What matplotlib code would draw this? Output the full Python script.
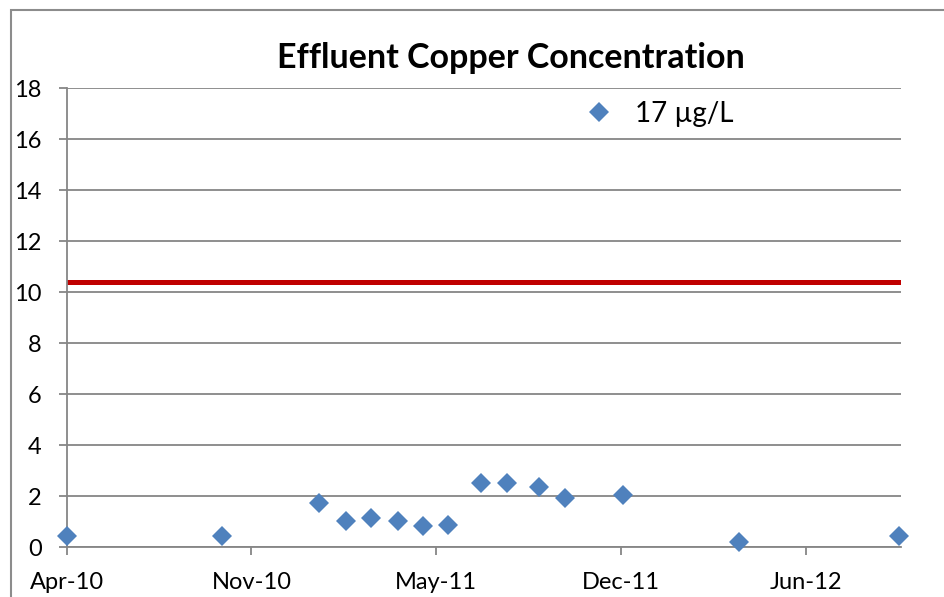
import matplotlib
matplotlib.use("Agg")
import matplotlib.pyplot as plt
import matplotlib.dates as mdates
from matplotlib.patches import Rectangle
import numpy as np
import datetime as dt

plt.rcParams['font.family'] = ['Lato', 'DejaVu Sans']

# sample dates and effluent copper results (ug/L)
sample_dates = ['2010-04-20', '2010-10-03', '2011-01-15', '2011-02-13', '2011-03-12',
                '2011-04-10', '2011-05-07', '2011-06-03', '2011-07-08', '2011-08-05',
                '2011-09-08', '2011-10-06', '2011-12-07', '2012-04-09', '2012-09-28']
copper = [0.42, 0.42, 1.71, 1.02, 1.14, 1.02, 0.82, 0.85, 2.52, 2.52, 2.34, 1.93, 2.04, 0.21, 0.42]
limit_value = 10.4
series_label = '17 \u00b5g/L'
title = 'Effluent Copper Concentration'

# excel style date axis: start date and major unit in days
axis_start = dt.datetime(2010, 4, 20)
major_unit = 198
axis_span = 894

dates = [dt.datetime.strptime(d, '%Y-%m-%d') for d in sample_dates]
tick_dates = [axis_start + dt.timedelta(days=major_unit * k) for k in range(5)]

W, H = 944, 597
fig = plt.figure(figsize=(W / 100, H / 100), dpi=100)
ax = fig.add_axes([66.7 / W, 50 / H, (901 - 66.7) / W, (547 - 88.3) / H])

grid_col = '#868686'
ax.set_axisbelow(True)
ax.yaxis.grid(True, color=grid_col, linewidth=1.3)
ax.axhline(limit_value, color='#C00000', linewidth=3.6, zorder=2)
ax.plot(dates, copper, linestyle='none', marker='D', markersize=10,
        color='#4F81BD', markeredgewidth=0, label=series_label, zorder=3, clip_on=False)

ax.set_ylim(0, 18)
ax.set_yticks(np.arange(0, 19, 2))
ax.set_xlim(axis_start, axis_start + dt.timedelta(days=axis_span))
ax.set_xticks(tick_dates)
ax.xaxis.set_major_formatter(mdates.DateFormatter('%b-%y'))

for side in ['top', 'right']:
    ax.spines[side].set_visible(False)
for side in ['left', 'bottom']:
    ax.spines[side].set_color(grid_col)
    ax.spines[side].set_linewidth(1.3)
ax.tick_params(axis='y', length=6, width=1.3, color=grid_col, pad=12, labelsize=17)
ax.tick_params(axis='x', length=6, width=1.3, color=grid_col, pad=12, labelsize=17)

fig.text(511 / W, 1 - 58 / H, title, ha='center', va='center', fontsize=24.5, fontweight='bold')

ax.legend(loc='center left', bbox_to_anchor=(588 / W, 1 - 114 / H), bbox_transform=fig.transFigure,
          frameon=False, fontsize=20, handlelength=0.8, handletextpad=0.9, borderpad=0, borderaxespad=0)

# chart area border
fig.patches.append(Rectangle((10.5 / W, -0.1), 1.2, 1 - 9.5 / H + 0.1, transform=fig.transFigure,
                             fill=False, edgecolor='#8C8C8C', linewidth=1.5))

fig.savefig('out.png', dpi=100)
